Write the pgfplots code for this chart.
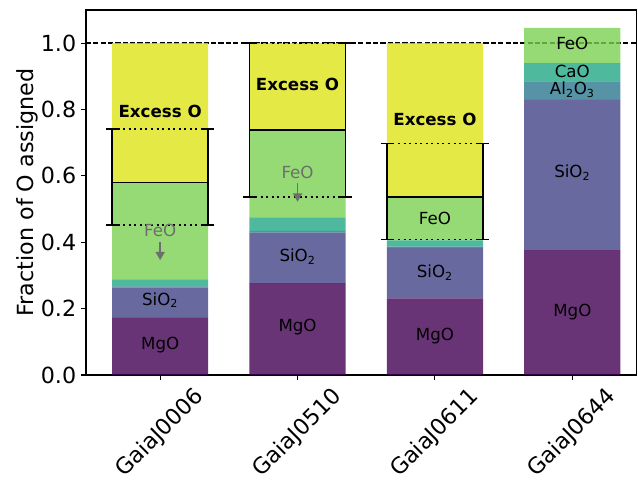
\documentclass[border=0pt]{standalone}
\usepackage{pgfplots}
\pgfplotsset{compat=1.18}
\usepackage{fontspec}
\setmainfont{DejaVu Sans}
\usetikzlibrary{arrows.meta}
\definecolor{cMgO}{HTML}{440154}
\definecolor{cSiO}{HTML}{414487}
\definecolor{cAlO}{HTML}{2A788E}
\definecolor{cCaO}{HTML}{22A884}
\definecolor{cFeO}{HTML}{7AD151}
\definecolor{cExc}{HTML}{DFE318}
\definecolor{annGray}{RGB}{110,110,110}
\pgfplotsset{
  base/.style={at={(0,0)}, anchor=south west, scale only axis,
    width=396.7pt, height=262.8pt,
    xmin=-0.54, xmax=3.47, ymin=0, ymax=1.1},
}
\newcommand{\lbl}{\fontsize{12}{14}\selectfont}
\begin{document}
\begin{tikzpicture}
% background: dashed reference line
\begin{axis}[base, hide axis]
\addplot[black, line width=1pt, dash pattern=on 3.7pt off 1.6pt] coordinates {(-0.54,1) (3.47,1)};
\end{axis}
% stacked bars
\begin{axis}[base,
  ybar stacked, bar width=0.7,
  axis line style={black, line width=0.8pt},
  tick style={black, line width=0.8pt},
  major tick length=3.5pt, tick align=outside, tick pos=left,
  xtick={0,1,2,3},
  xticklabels={GaiaJ0006,GaiaJ0510,GaiaJ0611,GaiaJ0644},
  ytick={0,0.2,0.4,0.6,0.8,1.0},
  yticklabel style={font=\fontsize{16}{19}\selectfont,
    /pgf/number format/.cd, fixed, fixed zerofill, precision=1, assume math mode=true},
  xticklabel style={font=\fontsize{16}{19}\selectfont, yshift=-38.5pt, rotate=45, anchor=center},
  ylabel={Fraction of O assigned},
  ylabel style={font=\fontsize{16}{19}\selectfont, at={(axis description cs:-0.107,0.5)}, anchor=center},
]
\addplot[fill=cMgO, draw=none, fill opacity=0.8] coordinates {(0,0.172) (1,0.277) (2,0.231) (3,0.376)};
\addplot[fill=cSiO, draw=none, fill opacity=0.8] coordinates {(0,0.091) (1,0.152) (2,0.152) (3,0.453)};
\addplot[fill=cAlO, draw=none, fill opacity=0.8] coordinates {(0,0.004) (1,0.005) (2,0.004) (3,0.056)};
\addplot[fill=cCaO, draw=none, fill opacity=0.8] coordinates {(0,0.021) (1,0.041) (2,0.019) (3,0.055)};
\addplot[fill=cFeO, draw=none, fill opacity=0.8] coordinates {(0,0.292) (1,0.264) (2,0.131) (3,0.106)};
\addplot[fill=cExc, draw=none, fill opacity=0.8] coordinates {(0,0.420) (1,0.261) (2,0.463) (3,0)};
\end{axis}
% overlays: uncertainty boxes and labels
\begin{axis}[base, hide axis, clip=false]
\addplot[draw=none, mark=none,
  error bars/.cd, y dir=both, y explicit,
  error bar style={black, line width=1.2pt},
  error mark options={black, line width=1.2pt, mark size=4.3pt, rotate=90}]
  coordinates {
  (-0.35,0.580) += (0,0.162) -= (0,0.128)
  (0.35,0.580) += (0,0.162) -= (0,0.128)
  (0.65,0.739) += (0,0.261) -= (0,0.202)
  (1.35,0.739) += (0,0.261) -= (0,0.202)
  (1.65,0.537) += (0,0.161) -= (0,0.129)
  (2.35,0.537) += (0,0.161) -= (0,0.129)
  };
% central (solid) lines
\addplot[black, line width=1.2pt] coordinates {(-0.35,0.580) (0.35,0.580)};
\addplot[black, line width=1.2pt] coordinates {(0.65,0.739) (1.35,0.739)};
\addplot[black, line width=1.2pt] coordinates {(1.65,0.537) (2.35,0.537)};
% dotted bounds
\addplot[black, line width=1.2pt, dash pattern=on 1.5pt off 2.5pt] coordinates {(-0.35,0.742) (0.35,0.742)};
\addplot[black, line width=1.2pt, dash pattern=on 1.5pt off 2.5pt] coordinates {(-0.35,0.452) (0.35,0.452)};
\addplot[black, line width=1.2pt, dash pattern=on 1.5pt off 2.5pt] coordinates {(0.65,1.0) (1.35,1.0)};
\addplot[black, line width=1.2pt, dash pattern=on 1.5pt off 2.5pt] coordinates {(0.65,0.537) (1.35,0.537)};
\addplot[black, line width=1.2pt, dash pattern=on 1.5pt off 2.5pt] coordinates {(1.65,0.698) (2.35,0.698)};
\addplot[black, line width=1.2pt, dash pattern=on 1.5pt off 2.5pt] coordinates {(1.65,0.408) (2.35,0.408)};
% labels
\node[font=\lbl] at (axis cs:0,0.089) {MgO};
\node[font=\lbl] at (axis cs:0,0.225) {SiO\textsubscript{2}};
\node[font=\lbl, text=annGray] at (axis cs:0,0.437) {FeO};
\draw[annGray, line width=1.2pt, -{Triangle[length=6pt,width=6.5pt]}] (axis cs:0,0.401) -- (axis cs:0,0.346);
\node[font=\lbl\bfseries] at (axis cs:0,0.794) {Excess O};

\node[font=\lbl] at (axis cs:1,0.143) {MgO};
\node[font=\lbl] at (axis cs:1,0.356) {SiO\textsubscript{2}};
\node[font=\lbl, text=annGray] at (axis cs:1,0.609) {FeO};
\draw[annGray, line width=1.2pt, -{Triangle[length=6pt,width=6.5pt]}] (axis cs:1,0.578) -- (axis cs:1,0.522);
\node[font=\lbl\bfseries] at (axis cs:1,0.875) {Excess O};

\node[font=\lbl] at (axis cs:2,0.116) {MgO};
\node[font=\lbl] at (axis cs:2,0.308) {SiO\textsubscript{2}};
\node[font=\lbl] at (axis cs:2,0.473) {FeO};
\node[font=\lbl\bfseries] at (axis cs:2,0.771) {Excess O};

\node[font=\lbl] at (axis cs:3,0.189) {MgO};
\node[font=\lbl] at (axis cs:3,0.609) {SiO\textsubscript{2}};
\node[font=\lbl] at (axis cs:3,0.859) {Al\textsubscript{2}O\textsubscript{3}};
\node[font=\lbl] at (axis cs:3,0.915) {CaO};
\node[font=\lbl] at (axis cs:3,1.0) {FeO};
\end{axis}
\pgfresetboundingbox
\path[use as bounding box] (-61.9pt,-76.3pt) rectangle (397.5pt,270pt);
\end{tikzpicture}
\end{document}
